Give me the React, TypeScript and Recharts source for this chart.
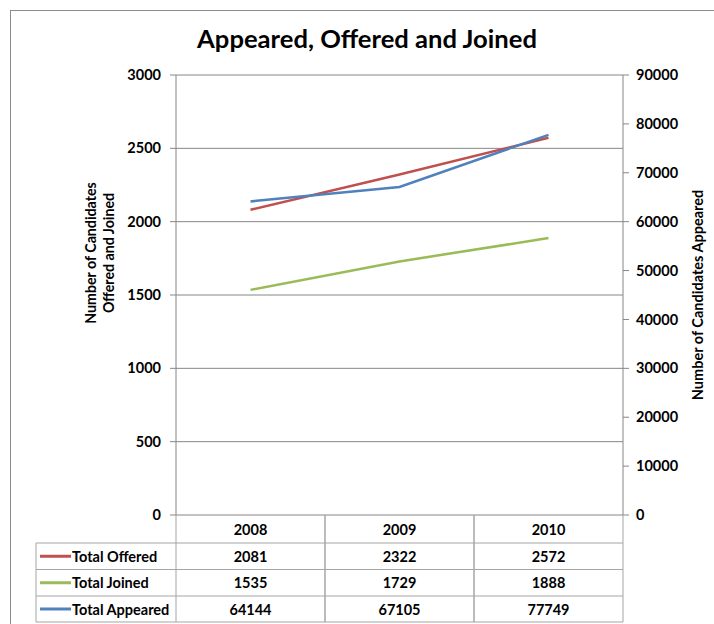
import { ComposedChart, Line, XAxis, YAxis, CartesianGrid } from "recharts";

const years = ["2008", "2009", "2010"];
const offered = [2081, 2322, 2572];
const joined = [1535, 1729, 1888];
const appeared = [64144, 67105, 77749];

const leftTicks = [0, 500, 1000, 1500, 2000, 2500, 3000];
const rightTicks = [0, 10000, 20000, 30000, 40000, 50000, 60000, 70000, 80000, 90000];

const series = [
  { key: "offered", name: "Total Offered", color: "#c0504d", values: offered },
  { key: "joined", name: "Total Joined", color: "#9bbb59", values: joined },
  { key: "appeared", name: "Total Appeared", color: "#4f81bd", values: appeared },
];

const data = years.map((year, i) => ({
  year,
  offered: offered[i],
  joined: joined[i],
  appeared: appeared[i],
}));

const FONT = "Lato, 'Open Sans', sans-serif";
const AXIS = "#868686";
const TABLE_LINE = "#a5a5a5";
const BAND = 149;
const ROWS = [0, 28, 54.5, 81, 107];
const LEGEND_LEFT = 36;

function TableTick(props: any) {
  const { x, y, payload, index } = props;
  const left = x - BAND / 2;
  const right = x + BAND / 2;
  const cells = [payload.value, ...series.map((s) => s.values[index])];
  return (
    <g fontFamily={FONT} fontWeight={700} fontSize={14.5} fill="#000">
      <line x1={left} y1={y} x2={left} y2={y + ROWS[4]} stroke={TABLE_LINE} />
      <line x1={right} y1={y} x2={right} y2={y + ROWS[4]} stroke={TABLE_LINE} />
      {ROWS.slice(1).map((r) => (
        <line key={r} x1={left} y1={y + r} x2={right} y2={y + r} stroke={TABLE_LINE} />
      ))}
      {cells.map((c, i) => (
        <text
          key={i}
          x={x}
          y={y + (ROWS[i] + ROWS[i + 1]) / 2}
          textAnchor="middle"
          dominantBaseline="central"
        >
          {c}
        </text>
      ))}
      {index === 0 && (
        <g>
          <line x1={LEGEND_LEFT} y1={y + ROWS[1]} x2={LEGEND_LEFT} y2={y + ROWS[4]} stroke={TABLE_LINE} />
          {ROWS.slice(1).map((r) => (
            <line key={r} x1={LEGEND_LEFT} y1={y + r} x2={left} y2={y + r} stroke={TABLE_LINE} />
          ))}
          {series.map((s, i) => {
            const cy = y + (ROWS[i + 1] + ROWS[i + 2]) / 2;
            return (
              <g key={s.key}>
                <line x1={40} y1={cy} x2={71} y2={cy} stroke={s.color} strokeWidth={3} />
                <text x={72} y={cy} dominantBaseline="central" textAnchor="start">
                  {s.name}
                </text>
              </g>
            );
          })}
        </g>
      )}
    </g>
  );
}

function LeftLabel() {
  return (
    <text
      transform="translate(100, 253) rotate(-90)"
      textAnchor="middle"
      fontFamily={FONT}
      fontWeight={700}
      fontSize={14.2}
      fill="#000"
    >
      <tspan x={0} dy={-4}>Number of Candidates</tspan>
      <tspan x={0} dy={18}>Offered and Joined</tspan>
    </text>
  );
}

function RightLabel() {
  return (
    <text
      transform="translate(703, 295) rotate(-90)"
      textAnchor="middle"
      fontFamily={FONT}
      fontWeight={700}
      fontSize={14.5}
      fill="#000"
    >
      Number of Candidates Appeared
    </text>
  );
}

export default function App() {
  const tickStyle = { fontFamily: FONT, fontWeight: 700, fontSize: 14.5, fill: "#000" };
  return (
    <div style={{ position: "absolute", left: 0, top: 0, width: 714, height: 624, background: "#fff", overflow: "hidden" }}>
      <div
        style={{
          position: "absolute",
          left: 10,
          top: 10,
          width: 740,
          height: 640,
          border: "1px solid #8c8c8c",
        }}
      />
      <div
        style={{
          position: "absolute",
          left: 11,
          width: 712,
          top: 23,
          textAlign: "center",
          fontFamily: FONT,
          fontWeight: 700,
          fontSize: 25.6,
          color: "#000",
        }}
      >
        Appeared, Offered and Joined
      </div>
      <div style={{ position: "absolute", left: 0, top: 0 }}>
        <ComposedChart
          width={714}
          height={624}
          data={data}
          margin={{ top: 75, right: 0, bottom: 2, left: 0 }}
        >
          <CartesianGrid yAxisId="left" vertical={false} stroke={AXIS} strokeWidth={1} />
          <XAxis
            dataKey="year"
            scale="band"
            height={107}
            axisLine={false}
            tickLine={false}
            tickSize={0}
            tickMargin={0}
            interval={0}
            tick={<TableTick />}
          />
          <YAxis
            yAxisId="left"
            width={176}
            domain={[0, 3000]}
            ticks={leftTicks}
            interval={0}
            stroke={AXIS}
            tickSize={6}
            tickMargin={9}
            tick={tickStyle}
            label={{ content: <LeftLabel /> }}
          />
          <YAxis
            yAxisId="right"
            orientation="right"
            width={91}
            domain={[0, 90000]}
            ticks={rightTicks}
            interval={0}
            stroke={AXIS}
            tickSize={6}
            tickMargin={7}
            tick={tickStyle}
            label={{ content: <RightLabel /> }}
          />
          <Line
            yAxisId="left"
            dataKey="offered"
            stroke="#c0504d"
            strokeWidth={2.5}
            dot={false}
            isAnimationActive={false}
          />
          <Line
            yAxisId="left"
            dataKey="joined"
            stroke="#9bbb59"
            strokeWidth={2.5}
            dot={false}
            isAnimationActive={false}
          />
          <Line
            yAxisId="right"
            dataKey="appeared"
            stroke="#4f81bd"
            strokeWidth={2.5}
            dot={false}
            isAnimationActive={false}
          />
        </ComposedChart>
      </div>
    </div>
  );
}
